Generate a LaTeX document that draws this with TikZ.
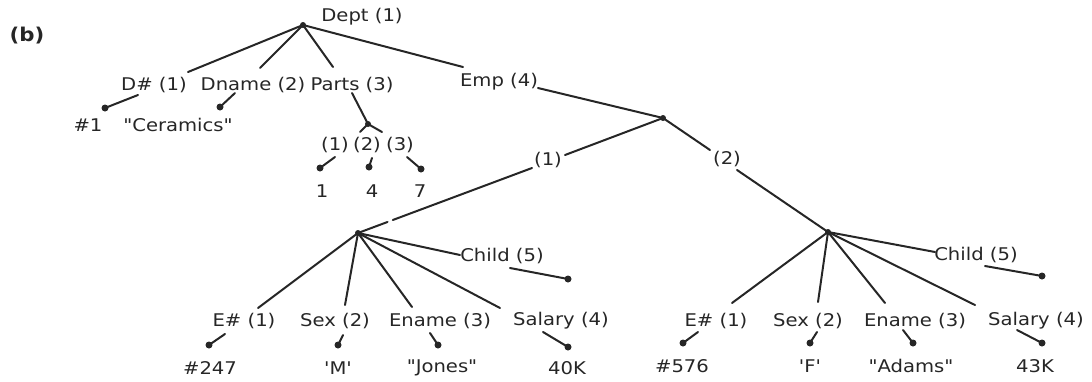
\documentclass[tikz,border=0pt]{standalone}
\usepackage{fontspec}
\setmainfont{DejaVu Sans}[FakeStretch=1.12, Ligatures=TeXOff]
\usetikzlibrary{calc}
\definecolor{ink}{gray}{0.15}
\begin{document}
\begin{tikzpicture}[x=1pt,y=-1pt,
  lbl/.style={inner sep=0pt, outer sep=0pt, text=ink, font=\fontsize{17.5}{19}\selectfont},
  edge/.style={draw=ink, line width=2pt, line cap=round},
  blob/.style={circle, fill=ink, inner sep=0pt, minimum size=7pt},
  knot/.style={circle, fill=ink, inner sep=0pt, minimum size=6pt},
]
\useasboundingbox (0,0) rectangle (1092,381);

% ---- department level ----
\node[lbl, font=\bfseries\fontsize{19}{21}\selectfont] (tag) at (27,36) {(b)};
\node[lbl] (dept) at (362,17) {Dept (1)};
\node[knot] (root) at (303,25) {};

\node[lbl] (dnum)  at (154,85) {D\# (1)};
\node[lbl] (dname) at (253,85) {Dname (2)};
\node[lbl] (parts) at (352,85) {Parts (3)};
\node[lbl] (emp)   at (499,82) {Emp (4)};

\draw[edge] (root.center) -- ([shift={(34,-13)}]dnum.center);
\draw[edge] (root.center) -- ([shift={(7,-17)}]dname.center);
\draw[edge] (root.center) -- ([shift={(-19,-18)}]parts.center);
\draw[edge] (root.center) -- ([shift={(-36,-15)}]emp.center);

\node[lbl] (vdnum)  at (88,125)  {\#1};
\node[lbl] (vdname) at (178,125) {"Ceramics"};
\node[blob] (bdnum)  at (105,108) {};
\node[blob] (bdname) at (220,107) {};
\draw[edge] ([shift={(-16,10)}]dnum.center) -- (bdnum.center);
\draw[edge] ([shift={(-18,8)}]dname.center) -- (bdname.center);

% ---- parts set ----
\node[knot] (pj) at (368,124) {};
\draw[edge] ([shift={(0,8)}]parts.center) -- (pj.center);
\coordinate (pjl) at (360,132);
\coordinate (pjr) at (382,132);
\draw[edge] (pjl) -- (pj.center) -- (pjr);

\node[lbl] (p1) at (335,145) {(1)};
\node[lbl] (p2) at (367,145) {(2)};
\node[lbl] (p3) at (400,145) {(3)};
\node[blob] (bp1) at (320,168) {};
\node[blob] (bp2) at (369,167) {};
\node[blob] (bp3) at (421,169) {};
\draw[edge] ([shift={(0,12)}]p1.center) -- (bp1.center);
\draw[edge] ([shift={(5,13)}]p2.center) -- (bp2.center);
\draw[edge] ([shift={(7,12)}]p3.center) -- (bp3.center);
\node[lbl] (v1) at (322,191) {1};
\node[lbl] (v4) at (372,191) {4};
\node[lbl] (v7) at (420,191) {7};

% ---- employee set ----
\node[knot] (ej) at (663,118) {};
\draw[edge] ([shift={(39,6)}]emp.center) -- (ej.center);

\node[lbl] (k1) at (548,160) {(1)};
\node[lbl] (k2) at (727,159) {(2)};
\node[knot] (e1j) at (358,233) {};
\node[knot] (e2j) at (828,232) {};

\draw[edge] (ej.center) -- ([shift={(17,-5)}]k1.center);
\coordinate (k1s) at ([shift={(-16,8)}]k1.center);
\draw[edge] (k1s) -- ($(k1s)!0.80!(e1j.center)$);
\draw[edge] ($(k1s)!0.83!(e1j.center)$) -- (e1j.center);

\draw[edge] (ej.center) -- ([shift={(-17,-9)}]k2.center);
\draw[edge] ([shift={(10,11)}]k2.center) -- (e2j.center);

% ---- employee 1 ----
\node[lbl] (eL) at (244,321) {E\# (1)};
\node[lbl] (sL) at (335,321) {Sex (2)};
\node[lbl] (nL) at (440,321) {Ename (3)};
\node[lbl] (yL) at (561,321) {Salary (4)};
\node[lbl] (cL) at (502,256) {Child (5)};

\draw[edge] (e1j.center) -- ([shift={(14,-13)}]eL.center);
\draw[edge] (e1j.center) -- ([shift={(10,-16)}]sL.center);
\draw[edge] (e1j.center) -- ([shift={(-28,-14)}]nL.center);
\draw[edge] (e1j.center) -- ([shift={(-61,-13)}]yL.center);
\draw[edge] (e1j.center) -- ([shift={(-42,-1)}]cL.center);

\node[blob] (bcL) at (568,279) {};
\node[blob] (beL) at (209,345) {};
\node[blob] (bsL) at (338,345) {};
\node[blob] (bnL) at (438,345) {};
\node[blob] (byL) at (568,347) {};
\draw[edge] ([shift={(8,12)}]cL.center) -- (bcL.center);
\draw[edge] ([shift={(-19,13)}]eL.center) -- (beL.center);
\draw[edge] ([shift={(8,14)}]sL.center) -- (bsL.center);
\draw[edge] ([shift={(-10,12)}]nL.center) -- (bnL.center);
\draw[edge] ([shift={(-18,11)}]yL.center) -- (byL.center);

\node[lbl] (veL) at (210,368) {\#247};
\node[lbl] (vsL) at (338,368) {'M'};
\node[lbl] (vnL) at (442,368) {"Jones"};
\node[lbl] (vyL) at (567,368) {40K};

% ---- employee 2 ----
\node[lbl] (eR) at (716,321) {E\# (1)};
\node[lbl] (sR) at (808,321) {Sex (2)};
\node[lbl] (nR) at (915,321) {Ename (3)};
\node[lbl] (yR) at (1036,321) {Salary (4)};
\node[lbl] (cR) at (976,255) {Child (5)};

\draw[edge] (e2j.center) -- ([shift={(16,-18)}]eR.center);
\draw[edge] (e2j.center) -- ([shift={(10,-19)}]sR.center);
\draw[edge] (e2j.center) -- ([shift={(-30,-18)}]nR.center);
\draw[edge] (e2j.center) -- ([shift={(-61,-16)}]yR.center);
\draw[edge] (e2j.center) -- ([shift={(-41,-3)}]cR.center);

\node[blob] (bcR) at (1042,276) {};
\node[blob] (beR) at (683,343) {};
\node[blob] (bsR) at (810,343) {};
\node[blob] (bnR) at (913,343) {};
\node[blob] (byR) at (1042,343) {};
\draw[edge] ([shift={(9,11)}]cR.center) -- (bcR.center);
\draw[edge] ([shift={(-18,11)}]eR.center) -- (beR.center);
\draw[edge] ([shift={(9,11)}]sR.center) -- (bsR.center);
\draw[edge] ([shift={(-12,9)}]nR.center) -- (bnR.center);
\draw[edge] ([shift={(-19,9)}]yR.center) -- (byR.center);

\node[lbl] (veR) at (682,366) {\#576};
\node[lbl] (vsR) at (810,366) {'F'};
\node[lbl] (vnR) at (911,366) {"Adams"};
\node[lbl] (vyR) at (1035,366) {43K};
\end{tikzpicture}
\end{document}
